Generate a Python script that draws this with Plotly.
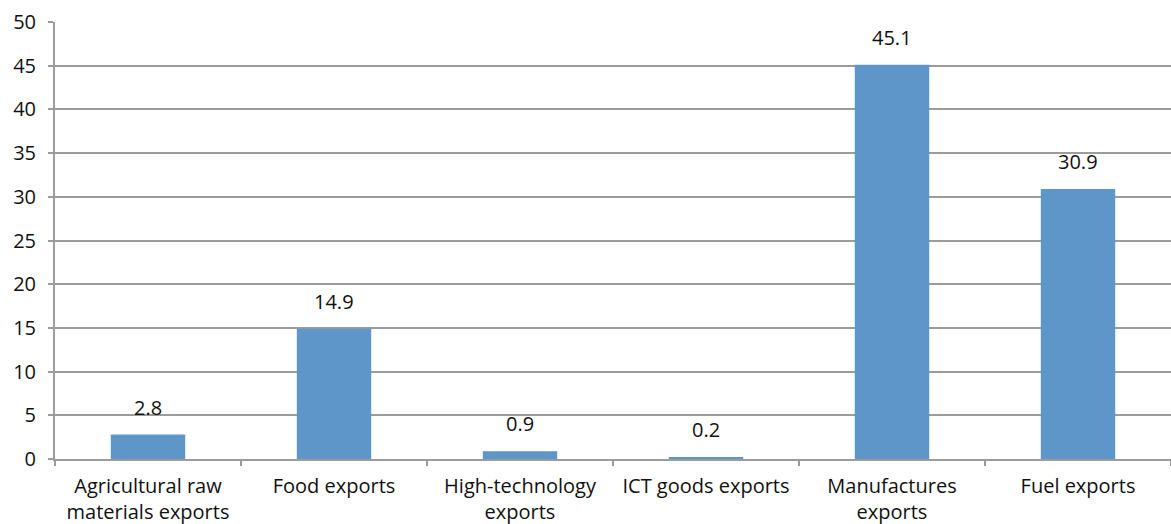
import plotly.graph_objects as go

categories = [
    "Agricultural raw<br>materials exports",
    "Food exports",
    "High-technology<br>exports",
    "ICT goods exports",
    "Manufactures<br>exports",
    "Fuel exports",
]
values = [2.8, 14.9, 0.9, 0.2, 45.1, 30.9]
y_ticks = list(range(0, 55, 5))

bar_color = "#5F96CA"
grid_color = "#9C9C9C"
font_family = "Open Sans, Noto Sans, sans-serif"
font_size = 20

fig = go.Figure(
    go.Bar(
        x=categories,
        y=values,
        marker=dict(color=bar_color, line=dict(width=0)),
        width=0.4,
        hoverinfo="x+y",
    )
)

# value labels above each bar
for cat, val in zip(categories, values):
    fig.add_annotation(
        x=cat, y=val, text=f"{val:.1f}",
        showarrow=False, yanchor="bottom", yshift=12,
        font=dict(size=font_size, color="#111111", family=font_family),
    )

fig.update_layout(
    width=1171, height=524,
    margin=dict(l=55, r=0, t=22, b=65),
    paper_bgcolor="white", plot_bgcolor="white",
    showlegend=False,
    font=dict(family=font_family, size=font_size, color="#111111"),
    bargap=0.6,
)

fig.update_xaxes(
    type="category",
    tickson="boundaries",
    ticks="outside", ticklen=5, tickwidth=2, tickcolor=grid_color,
    showline=True, linecolor=grid_color, linewidth=2,
    showgrid=False, zeroline=False,
    ticklabelstandoff=8,
    tickfont=dict(size=font_size, color="#111111"),
)

fig.update_yaxes(
    range=[0, 50],
    tickvals=y_ticks,
    ticks="outside", ticklen=5, tickwidth=2, tickcolor=grid_color,
    showline=True, linecolor=grid_color, linewidth=2,
    showgrid=True, gridcolor=grid_color, gridwidth=2,
    zeroline=False,
    ticklabelstandoff=8,
    tickfont=dict(size=font_size, color="#111111"),
)

fig.write_html("out.html")
